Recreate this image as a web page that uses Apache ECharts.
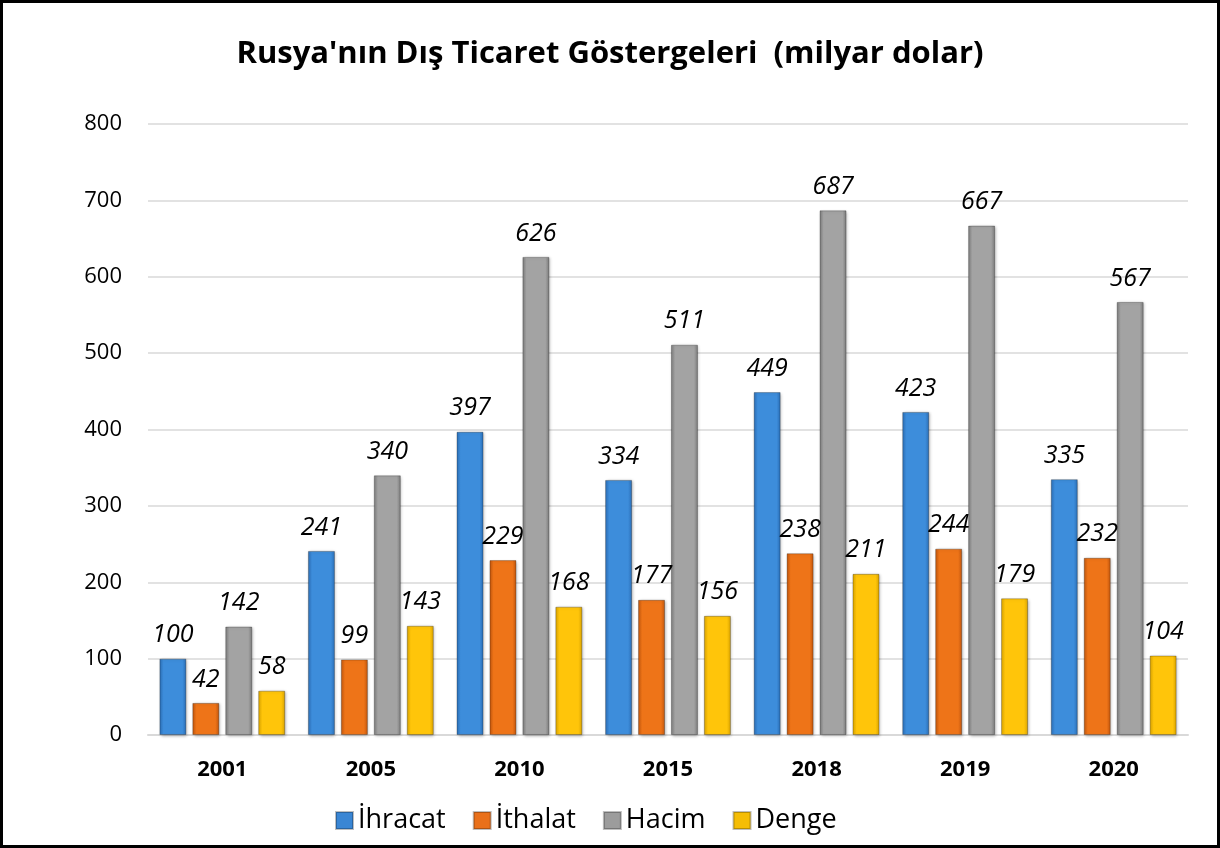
<!DOCTYPE html>
<html>
<head>
<meta charset="utf-8">
<script src="https://cdn.jsdelivr.net/npm/echarts@6/dist/echarts.min.js"></script>
<style>
html,body{margin:0;padding:0;background:#fff;}
#c{width:1220px;height:848px;}
</style>
</head>
<body>
<div id="c"></div>
<script>
const categories = ['2001','2005','2010','2015','2018','2019','2020'];
const ihracat = [100,241,397,334,449,423,335];
const ithalat = [42,99,229,177,238,244,232];
const hacim = [142,340,626,511,687,667,567];
const denge = [58,143,168,156,211,179,104];
const seriesNames = ['İhracat','İthalat','Hacim','Denge'];
const yTicks = [0,100,200,300,400,500,600,700,800];

const font = '"Open Sans", "Noto Sans", sans-serif';
function grad(edge, mid) {
  return new echarts.graphic.LinearGradient(0,0,1,0,[
    {offset:0,color:edge},{offset:0.15,color:mid},{offset:0.85,color:mid},{offset:1,color:edge}
  ]);
}
const styles = [
  grad('#2a6db5','#3d8ddb'),
  grad('#c0550d','#ee7418'),
  grad('#7a7a7a','#a3a3a3'),
  grad('#d9a300','#ffc50a')
];
const legendColors = ['#3a86d4','#e9701a','#9c9c9c','#f5bd05'];
const data = [ihracat, ithalat, hacim, denge];

const chart = echarts.init(document.getElementById('c'), null, {renderer:'canvas'});
chart.setOption({
  animation:false,
  backgroundColor:'#fff',
  title:{
    text:"Rusya'nın Dış Ticaret Göstergeleri  (milyar dolar)",
    left:'center', top:34,
    textStyle:{fontFamily:font, fontSize:31, fontWeight:'bold', color:'#000'}
  },
  graphic:[{type:'rect', shape:{x:1.5,y:1.5,width:1217,height:845}, style:{fill:'none',stroke:'#000',lineWidth:3}, silent:true}],
  legend:{
    bottom:9, left:330, itemWidth:17, itemHeight:17, itemGap:27,
    icon:'rect',
    textStyle:{fontFamily:font, fontSize:27, color:'#000', padding:[0,0,0,0]},
    data: seriesNames.map((n,i)=>({name:n, itemStyle:{color:legendColors[i]}}))
  },
  grid:{left:148, right:32, top:124, bottom:113, containLabel:false},
  xAxis:{
    type:'category', data:categories,
    axisLine:{lineStyle:{color:'#d9d9d9', width:2}},
    axisTick:{show:false},
    axisLabel:{fontFamily:font, fontSize:22, fontWeight:'bold', color:'#000', margin:24}
  },
  yAxis:{
    type:'value', min:yTicks[0], max:yTicks[yTicks.length-1], interval:100,
    axisLine:{show:false}, axisTick:{show:false},
    splitLine:{lineStyle:{color:'#d9d9d9', width:1.5}},
    axisLabel:{fontFamily:font, fontSize:22, color:'#000', margin:26}
  },
  series: seriesNames.map((n,i)=>({
    name:n, type:'bar', data:data[i],
    barWidth:27, barGap:'22%', barCategoryGap:'15%',
    itemStyle:{color:styles[i], borderColor:'rgba(0,0,0,0.25)', borderWidth:1,
      shadowColor:'rgba(0,0,0,0.3)', shadowBlur:3, shadowOffsetX:1, shadowOffsetY:1},
    label:{show:true, position:'top', distance:11,
      fontFamily:font, fontSize:25, fontStyle:'italic', color:'#000'}
  }))
});
</script>
</body>
</html>
